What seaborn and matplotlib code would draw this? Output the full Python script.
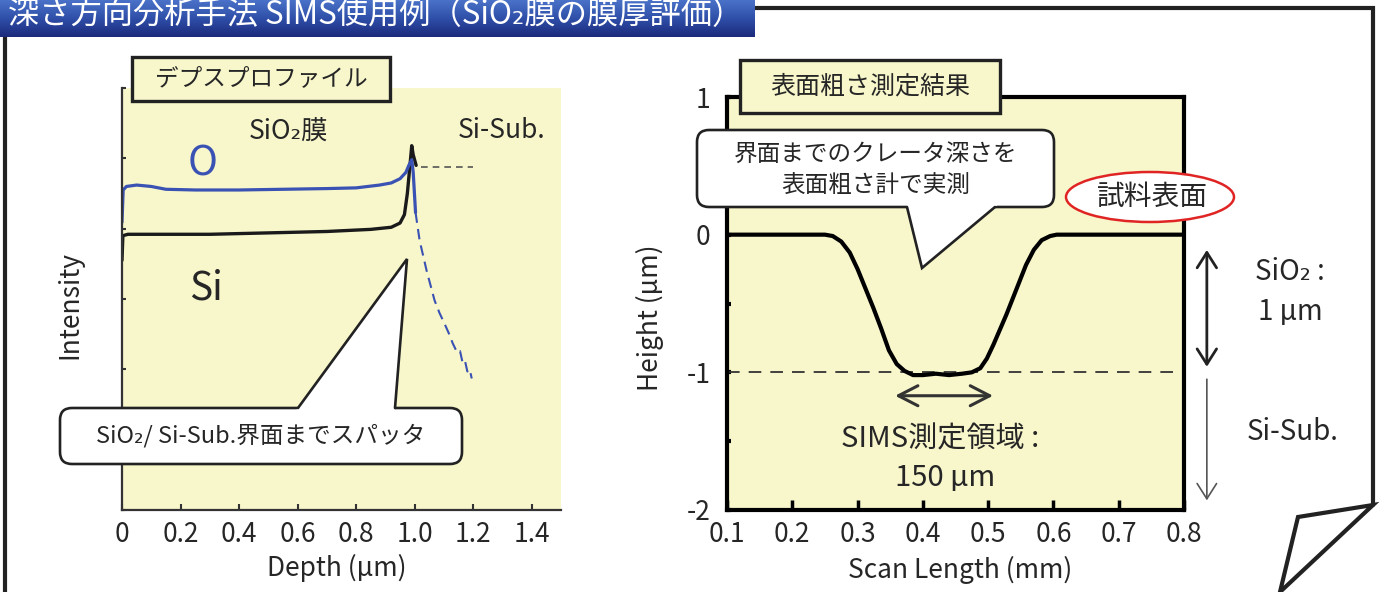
import numpy as np
import matplotlib
matplotlib.use("Agg")
import matplotlib.pyplot as plt
import seaborn as sns
from matplotlib.patches import Rectangle, FancyBboxPatch, Polygon, Ellipse
from matplotlib.colors import LinearSegmentedColormap

# ---------------- data ----------------
# SIMS depth profile (arbitrary intensity units)
o_depth = [0.0, 0.004, 0.015, 0.05, 0.10, 0.15, 0.25, 0.40, 0.55, 0.70, 0.80,
           0.88, 0.92, 0.95, 0.97, 0.98, 0.99, 0.995, 1.003]
o_int = [4.09, 4.55, 4.60, 4.62, 4.60, 4.56, 4.55, 4.55, 4.56, 4.57, 4.58,
         4.62, 4.65, 4.71, 4.80, 4.90, 4.98, 4.80, 4.23]
o_tail_depth = [1.003, 1.017, 1.041, 1.068, 1.085, 1.102, 1.118, 1.130, 1.145,
                1.155, 1.164, 1.172, 1.180, 1.188, 1.195]
o_tail_int = [4.23, 3.83, 3.40, 2.98, 2.80, 2.65, 2.50, 2.37, 2.24,
              2.26, 2.09, 2.12, 1.97, 2.00, 1.87]

si_depth = [0.0, 0.003, 0.02, 0.10, 0.30, 0.50, 0.70, 0.85, 0.92, 0.95,
            0.965, 0.975, 0.985, 0.99, 0.995, 1.005]
si_int = [3.55, 3.90, 3.92, 3.92, 3.92, 3.94, 3.96, 3.99, 4.02, 4.08,
          4.20, 4.50, 4.95, 5.18, 5.05, 4.90]
si_tail_depth = [1.02, 1.20]
si_tail_int = [4.88, 4.88]

depth_ticks = [0, 0.2, 0.4, 0.6, 0.8, 1.0, 1.2, 1.4]
depth_ticklabels = ["0", "0.2", "0.4", "0.6", "0.8", "1.0", "1.2", "1.4"]

# Stylus profile across the crater
scan_mm = [0.10, 0.250, 0.262, 0.275, 0.288, 0.300, 0.312, 0.324, 0.336, 0.348,
           0.360, 0.372, 0.385, 0.400, 0.420, 0.440, 0.460, 0.475, 0.488, 0.498,
           0.508, 0.518, 0.528, 0.538, 0.548, 0.558, 0.570, 0.582, 0.595, 0.605, 0.80]
height_um = [0.0, 0.0, -0.01, -0.05, -0.13, -0.25, -0.39, -0.53, -0.68, -0.84,
             -0.94, -0.99, -1.02, -1.02, -1.01, -1.02, -1.01, -1.00, -0.97, -0.90,
             -0.80, -0.69, -0.58, -0.46, -0.34, -0.22, -0.11, -0.04, -0.01, 0.0, 0.0]
scan_ticks = [0.1, 0.2, 0.3, 0.4, 0.5, 0.6, 0.7, 0.8]
scan_ticklabels = ["0.1", "0.2", "0.3", "0.4", "0.5", "0.6", "0.7", "0.8"]
height_ticks = [-2, -1, 0, 1]
height_ticklabels = ["-2", "-1", "0", "1"]

crater_depth_um = 1.0          # SiO2 thickness
sims_center_mm = 0.4325
sims_width_mm = 0.150          # 150 um analysis area

# ---------------- style ----------------
sns.set_theme(style="white")
plt.rcParams["font.family"] = ["Noto Sans CJK JP", "DejaVu Sans"]
plt.rcParams["axes.unicode_minus"] = False

W, H = 1383, 592
fig = plt.figure(figsize=(W / 100, H / 100), dpi=100, facecolor="white")

PANEL = "#f8f6cb"
BLUE = "#3a52b4"
INK = "#222222"


def px_axes(x0, y0, x1, y1, **kw):
    return fig.add_axes([x0 / W, 1 - y1 / H, (x1 - x0) / W, (y1 - y0) / H], **kw)


# ---------------- depth profile ----------------
ax1 = px_axes(122, 88, 561, 510)
ax1.set_facecolor(PANEL)
sns.lineplot(x=si_depth, y=si_int, ax=ax1, color="#1a1a1a", lw=2.4,
             sort=False, estimator=None)
sns.lineplot(x=si_tail_depth, y=si_tail_int, ax=ax1, color="#555555", lw=1.2,
             sort=False, estimator=None, linestyle=(0, (4, 3)))
sns.lineplot(x=o_depth, y=o_int, ax=ax1, color=BLUE, lw=2.3,
             sort=False, estimator=None)
sns.lineplot(x=o_tail_depth, y=o_tail_int, ax=ax1, color=BLUE, lw=1.5,
             sort=False, estimator=None, linestyle=(0, (5, 3)))

ax1.set_xlim(0, 1.5)
ax1.set_ylim(0, 6)
ax1.set_xticks(depth_ticks)
ax1.set_xticklabels(depth_ticklabels)
ax1.set_yticks(range(0, 7))
ax1.set_yticklabels([])
ax1.tick_params(axis="x", bottom=True, direction="in", length=4, width=1.5,
                color="#333333", labelsize=19, pad=8)
ax1.tick_params(axis="y", left=True, direction="in", length=3, width=1.5,
                color="#333333", labelleft=False)
for side in ("top", "right"):
    ax1.spines[side].set_visible(False)
for side in ("left", "bottom"):
    ax1.spines[side].set_color("#333333")
    ax1.spines[side].set_linewidth(1.6)

ax1.set_xlabel("Depth (µm)", fontsize=19)
ax1.xaxis.label.set_va("center")
ax1.xaxis.set_label_coords((337 - 122) / 439, (510 - 568) / 422)
ax1.set_ylabel("Intensity", fontsize=19)
ax1.yaxis.label.set_va("center")
ax1.yaxis.set_label_coords((70 - 122) / 439, (510 - 305) / 422)

ax1.text(0.57, 5.38, "SiO₂膜", ha="center", va="center", fontsize=19)
ax1.text(1.147, 5.39, "Si-Sub.", ha="left", va="center", fontsize=19)
ax1.text(0.276, 4.92, "O", ha="center", va="center", fontsize=29, color=BLUE)
ax1.text(0.287, 3.15, "Si", ha="center", va="center", fontsize=28)

# ---------------- surface profile ----------------
ax2 = px_axes(727, 97, 1184, 510)
ax2.set_facecolor(PANEL)
ax2.axhline(-crater_depth_um, xmin=0, xmax=0.985, color="#333333", lw=1.3,
            ls=(0, (7, 5)))
sns.lineplot(x=scan_mm, y=height_um, ax=ax2, color="black", lw=3.0,
             sort=False, estimator=None)
ax2.set_xlim(0.1, 0.8)
ax2.set_ylim(-2, 1)
ax2.set_xticks(scan_ticks)
ax2.set_xticklabels(scan_ticklabels)
ax2.set_yticks(height_ticks)
ax2.set_yticklabels(height_ticklabels)
ax2.set_yticks([-1.5, -0.5, 0.5], minor=True)
ax2.tick_params(axis="x", bottom=True, direction="in", length=7, width=2.5,
                color="black", labelsize=19, pad=8)
ax2.tick_params(axis="y", which="both", left=True, direction="in", length=3,
                width=3, color="black", labelsize=19, pad=12)
for side in ax2.spines.values():
    side.set_color("black")
    side.set_linewidth(3)

ax2.set_xlabel("Scan Length (mm)", fontsize=19)
ax2.xaxis.label.set_va("center")
ax2.xaxis.set_label_coords((960 - 727) / 457, (510 - 570) / 413)
ax2.set_ylabel("Height (µm)", fontsize=19)
ax2.yaxis.label.set_va("center")
ax2.yaxis.set_label_coords((650 - 727) / 457, (510 - 318) / 413)

# analysis-area arrow and text
ax2.annotate("", xy=(sims_center_mm + sims_width_mm / 2, -1.17),
             xytext=(sims_center_mm - sims_width_mm / 2, -1.17),
             arrowprops=dict(arrowstyle="<->,head_length=0.7,head_width=0.36",
                             mutation_scale=20, lw=2.2, color="#333333",
                             shrinkA=0, shrinkB=0))
ax2.text(0.426, -1.49, "SIMS測定領域 :", ha="center", va="center", fontsize=21)
ax2.text(0.434, -1.77, f"{sims_width_mm * 1000:.0f} µm", ha="center",
         va="center", fontsize=21)

# thickness arrows to the right of the frame
ytr = ax2.get_yaxis_transform()
ax2.annotate("", xy=(1.05, -crater_depth_um), xytext=(1.05, 0),
             xycoords=ytr, textcoords=ytr, annotation_clip=False,
             arrowprops=dict(arrowstyle="<->,head_length=0.55,head_width=0.35",
                             mutation_scale=20, lw=2.0, color=INK,
                             shrinkA=11, shrinkB=4))
ax2.annotate("", xy=(1.05, -1.93), xytext=(1.05, -1.05),
             xycoords=ytr, textcoords=ytr, annotation_clip=False,
             arrowprops=dict(arrowstyle="->,head_length=0.55,head_width=0.35",
                             mutation_scale=20, lw=1.2, color="#555555",
                             shrinkA=0, shrinkB=0))

# ---------------- overlay: page, title, tabs, callouts ----------------
ov = fig.add_axes([0, 0, 1, 1], zorder=10)
ov.patch.set_alpha(0)

grad = np.linspace(0, 1, 64).reshape(-1, 1)
bar_cmap = LinearSegmentedColormap.from_list(
    "bar", ["#4a72c8", "#2f4fa8", "#1b2a7c"])
ov.imshow(grad, extent=[0, 755, 37, 0], aspect="auto", cmap=bar_cmap, zorder=2)
ov.set_xlim(0, W)
ov.set_ylim(H, 0)
ov.axis("off")

ov.plot([5, 5, 1373, 1373], [H, 8, 8, 505], color=INK, lw=3,
        solid_joinstyle="miter", zorder=1)
ov.add_patch(Polygon([(1298, 517), (1373, 505), (1280, 592)], closed=True,
                     fc="white", ec=INK, lw=3, joinstyle="miter", zorder=1))

ov.text(8, 15, "深さ方向分析手法 SIMS使用例（SiO₂膜の膜厚評価）", color="white",
        fontsize=22.5, ha="left", va="center", zorder=3)

# tabs
for (x0, y0, x1, y1, label, fs) in [(132, 57, 390, 101, "デプスプロファイル", 17),
                                    (740, 60, 1000, 113, "表面粗さ測定結果", 18)]:
    ov.add_patch(Rectangle((x0, y0), x1 - x0, y1 - y0, fc=PANEL, ec=INK,
                           lw=2.4, zorder=3))
    ov.text((x0 + x1) / 2, (y0 + y1) / 2, label, ha="center", va="center",
            fontsize=fs, zorder=4)


def callout(x0, y0, x1, y1, base_l, base_r, base_y, tip, r=12):
    ov.add_patch(FancyBboxPatch((x0, y0), x1 - x0, y1 - y0,
                                boxstyle=f"round,pad=0,rounding_size={r}",
                                fc="white", ec=INK, lw=1.9, zorder=3))
    t = 3.0 / abs(base_y - tip[1])
    pl = (base_l + (base_l - tip[0]) * t, base_y + (base_y - tip[1]) * t)
    pr = (base_r + (base_r - tip[0]) * t, base_y + (base_y - tip[1]) * t)
    ov.add_patch(Polygon([pl, pr, tip], closed=True, fc="white", ec="none",
                         zorder=4))
    ov.plot([base_l, tip[0], base_r], [base_y, tip[1], base_y], color=INK,
            lw=1.9, solid_joinstyle="miter", zorder=5)


callout(60, 408, 462, 464, 298, 395, 408, (407, 259))
ov.text(261, 436, "SiO₂/ Si-Sub.界面までスパッタ", ha="center", va="center",
        fontsize=17, zorder=6)

callout(697, 130, 1054, 207, 907, 995, 207, (922, 268))
ov.text(876, 154, "界面までのクレータ深さを", ha="center", va="center",
        fontsize=17, zorder=6)
ov.text(876, 186, "表面粗さ計で実測", ha="center", va="center",
        fontsize=17, zorder=6)

ov.add_patch(Ellipse((1150, 197), 168, 50, fc="white", ec="#e02424", lw=1.8,
                     zorder=3))
ov.text(1152, 197, "試料表面", ha="center", va="center", fontsize=20, zorder=4)

ov.text(1290, 272, "SiO₂ :", ha="center", va="center", fontsize=20, zorder=4)
ov.text(1290, 312, "1 µm", ha="center", va="center", fontsize=20, zorder=4)
ov.text(1293, 432, "Si-Sub.", ha="center", va="center", fontsize=20, zorder=4)

fig.savefig("out.png", dpi=100, facecolor="white")
